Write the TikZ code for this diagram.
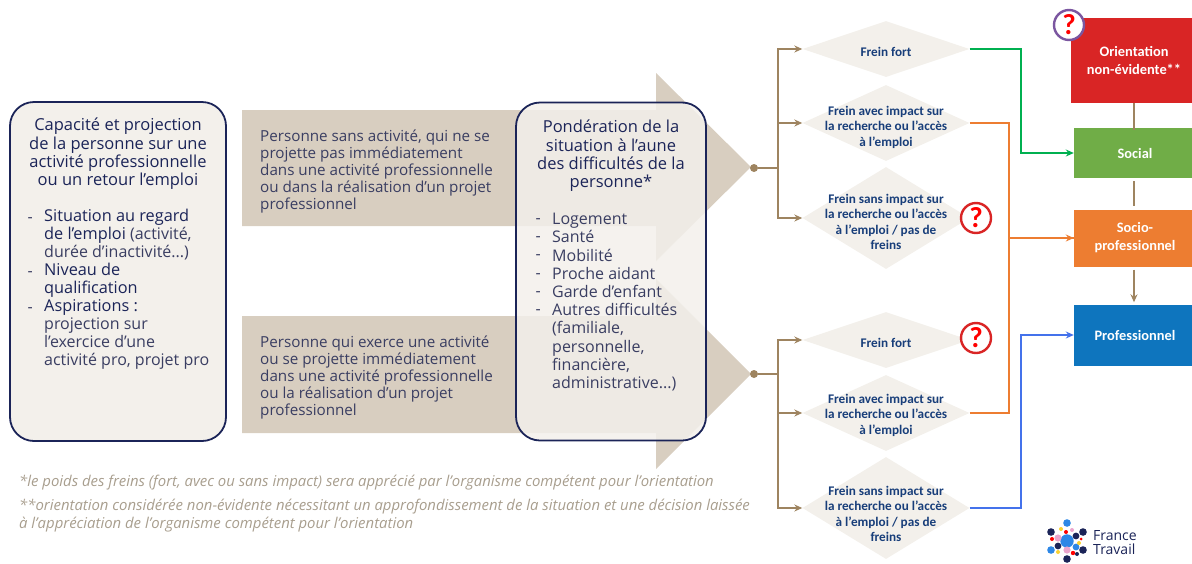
\documentclass[tikz,border=0pt]{standalone}
\usepackage{xcolor}
\definecolor{marine}{RGB}{27,36,88}
\definecolor{encre}{RGB}{58,62,98}
\definecolor{sable}{RGB}{216,206,192}
\definecolor{creme}{RGB}{243,240,235}
\definecolor{losange}{RGB}{243,240,235}
\definecolor{brun}{RGB}{158,132,96}
\definecolor{freintxt}{RGB}{24,62,122}
\definecolor{rouge}{RGB}{217,37,37}
\definecolor{vert}{RGB}{112,173,71}
\definecolor{orange}{RGB}{237,125,49}
\definecolor{bleu}{RGB}{14,117,190}
\definecolor{notegris}{RGB}{168,158,142}
\definecolor{lienvert}{RGB}{0,176,80}
\definecolor{lienbleu}{RGB}{68,114,235}
\definecolor{violet}{RGB}{123,86,160}
\definecolor{azur}{RGB}{45,135,230}
\definecolor{rose}{RGB}{235,165,205}
\definecolor{jaune}{RGB}{250,210,50}
\usepackage{fontspec}
\setmainfont{Open Sans}
\newfontfamily\carlito{Carlito}
\usepackage{tikz}
\usetikzlibrary{shapes.geometric}
\usetikzlibrary{positioning}
\usetikzlibrary{arrows.meta}
\tikzset{
  boite/.style={draw=marine,line width=1.8pt,rounded corners=24pt,fill=creme},
  corps/.style={text=encre,font=\fontsize{16}{18.2}\selectfont,inner sep=0pt,align=left},
  titre/.style={corps,text=marine,align=center,anchor=north,font=\fontsize{16.5}{18.3}\selectfont},
  fleche/.style={fill=sable,draw=none},
  flechetxt/.style={corps,anchor=north west,font=\fontsize{15.2}{17}\selectfont},
  frein/.style={diamond,fill=losange,draw=none,inner sep=0pt,minimum width=167},
  freinlabel/.style={text=freintxt,font=\carlito\bfseries\fontsize{13.2}{15.5}\selectfont,align=center,inner sep=0pt,yshift=-4pt},
  choix/.style={draw=none,minimum width=122,text=white,align=center,font=\carlito\bfseries\fontsize{14.4}{18}\selectfont},
  lien/.style={draw=brun,line width=1.6pt},
  pointe/.style={-{Stealth[length=8pt,width=7pt]}},
  point/.style={circle,fill=brun,inner sep=0pt,minimum size=8pt},
  alerte/.style={circle,draw=#1,fill=white,line width=2.4pt,minimum size=30,inner sep=0pt,text=red,font=\carlito\bfseries\fontsize{29}{29}\selectfont},
  note/.style={text=notegris,font=\itshape\fontsize{14.9}{17.5}\selectfont,inner sep=0pt,align=left,anchor=west}
}
\begin{document}
\begin{tikzpicture}[x=1pt,y=-1pt]
\useasboundingbox (0,0) rectangle (1192,563);
% fleches
\draw[fleche] (242,110) -- (656,110) -- (656,73) -- (751,167) -- (656,261) -- (656,226) -- (242,226) -- cycle;
\draw[fleche] (242,316) -- (656,316) -- (656,279) -- (751,374) -- (656,469) -- (656,433) -- (242,433) -- cycle;
\node[flechetxt] (sansact) at (260,130) {Personne sans activité, qui ne se\\projette pas immédiatement\\dans une activité professionnelle\\ou dans la réalisation d’un projet\\professionnel};
\node[flechetxt] (avecact) at (260,336) {Personne qui exerce une activité\\ou se projette immédiatement\\dans une activité professionnelle\\ou la réalisation d’un projet\\professionnel};
% boites
\node[boite,minimum width=216,minimum height=339] (capacite) at (118,271.5) {};
\node[titre] (capatitre) at (118,118) {Capacité et projection\\de la personne sur une\\activité professionnelle\\ou un retour l’emploi};
\node[corps,text=marine,anchor=north west,font=\fontsize{16.3}{18}\selectfont] (capaliste) at (44,209) {Situation au regard\\de l’emploi {\color{encre}\fontsize{16}{18}\selectfont(activité,}\\{\color{encre}\fontsize{16}{18}\selectfont durée d’inactivité...)}\\Niveau de\\qualification\\Aspirations :\\{\color{encre}\fontsize{16}{18}\selectfont projection sur}\\{\color{encre}\fontsize{16}{18}\selectfont l’exercice d’une}\\{\color{encre}\fontsize{16}{18}\selectfont activité pro, projet pro}};
\foreach \n/\d in {1/11,2/65,3/101}
  \node[corps,anchor=east] (tiret\n) at ([yshift=-\d pt,xshift=-11pt]capaliste.north west) {-};
\node[boite,fill opacity=.85,minimum width=190,minimum height=338] (ponderation) at (611,271.5) {};
\node[titre] (pondetitre) at (611,120) {Pondération de la\\situation à l’aune\\des difficultés de la\\personne*};
\node[corps,anchor=north west] (pondeliste) at (552,213) {Logement\\Santé\\Mobilité\\Proche aidant\\Garde d’enfant\\Autres difficultés\\(familiale,\\personnelle,\\financière,\\administrative...)};
\foreach \n in {0,...,5}
  \node[corps,anchor=east] (ptiret\n) at (541,221+18.2*\n) {-};
% losanges
\node[frein,minimum height=56,label={[freinlabel,yshift=1pt]center:Frein fort}] (fort1) at (886,49) {};
\node[frein,minimum height=76,label={[freinlabel]center:Frein avec impact sur\\la recherche ou l’accès\\à l’emploi}] (avec1) at (886,123) {};
\node[frein,minimum height=102,label={[freinlabel]center:Frein sans impact sur\\la recherche ou l’accès\\à l’emploi / pas de\\freins}] (sans1) at (886,218) {};
\node[frein,minimum height=56,label={[freinlabel,yshift=1pt]center:Frein fort}] (fort2) at (886,340) {};
\node[frein,minimum height=76,label={[freinlabel,yshift=2pt]center:Frein avec impact sur\\la recherche ou l’accès\\à l’emploi}] (avec2) at (886,413) {};
\node[frein,minimum height=102,label={[freinlabel,yshift=-2pt]center:Frein sans impact sur\\la recherche ou l’accès\\à l’emploi / pas de\\freins}] (sans2) at (886,508) {};
% orientations
\node[choix,fill=rouge,minimum width=126,minimum height=85] (nonevid) at (1134,60.5) {Orientation\\non-évidente**};
\node[choix,fill=vert,minimum height=50] (social) at (1135,153) {Social};
\node[choix,fill=orange,minimum height=57] (socio) at (1135,238) {Socio-\\professionnel};
\node[choix,fill=bleu,minimum height=61] (pro) at (1135,335) {Professionnel};
% liens
\node[point] (dep1) at (754,168) {};
\node[point] (dep2) at (754,374) {};
\coordinate (nd1) at (778,168);
\coordinate (nd2) at (778,374);
\draw[lien] (dep1) -- (nd1);
\draw[lien] (dep2) -- (nd2);
\foreach \a/\b in {nd1/fort1,nd1/avec1,nd1/sans1,nd2/fort2,nd2/avec2,nd2/sans2}
  \draw[lien,pointe] (\a) |- (\b.west);
\draw[lien] (nonevid.south) -- ([xshift=-1pt,yshift=-2pt]social.north);
\draw[lien] ([xshift=-1pt,yshift=-3pt]social.south) -- ([xshift=-1pt,yshift=3pt]socio.north);
\draw[lien,pointe] ([xshift=-1pt,yshift=-3pt]socio.south) -- ([xshift=-1pt,yshift=2pt]pro.north);
\draw[draw=lienvert,line width=1.6pt,pointe] (fort1.east) -- ++(51,0) |- (social.west);
\draw[draw=orange,line width=1.6pt,pointe] (avec1.east) -- ++(39,0) |- (socio.west);
\draw[draw=orange,line width=1.6pt] (avec2.east) -- ++(39,0) |- (socio.west);
\draw[draw=lienbleu,line width=1.6pt,pointe] (sans2.east) -- ++(51,0) |- (pro.west);
% alertes
\node[alerte=violet] (alerte0) at (1069,25) {?};
\node[alerte=rouge] (alerte1) at (976,218) {?};
\node[alerte=rouge] (alerte2) at (976,338) {?};
% notes
\node[note] (note1) at (19,483) {*le poids des freins (fort, avec ou sans impact) sera apprécié par l’organisme compétent pour l’orientation};
\node[note,anchor=north west] (note2) at (19,499) {**orientation considérée non-évidente nécessitant un approfondissement de la situation et une décision laissée\\à l’appréciation de l’organisme compétent pour l’orientation};
% logo
\foreach \x/\y/\r/\c in {1067/541/6.7/azur,1067/523/3.8/azur,1051/532/3.8/marine,1083/532/3.8/marine,1051/550/3.8/azur,1083/550/3.8/marine,1067/559/3.8/marine,1058/538/3.6/rose,1067/550/3.6/rose,1058/546/3.4/marine,1076/536/3.4/marine,1076/547/3.4/azur,1061/529/2/jaune,1072/530/2/rose,1066/532/2/red,1052/539/2/red,1079/543/2/jaune,1081/539/1.5/red,1073/553/2.2/red,1077/554/2/marine,1058/552/2/jaune}
  \fill[\c] (\x,\y) circle (\r);
\node[text=marine,font=\fontsize{14}{13.5}\selectfont,align=left,inner sep=0pt,anchor=west] (logo) at (1093,542.5) {France\\Travail};
\end{tikzpicture}
\end{document}
